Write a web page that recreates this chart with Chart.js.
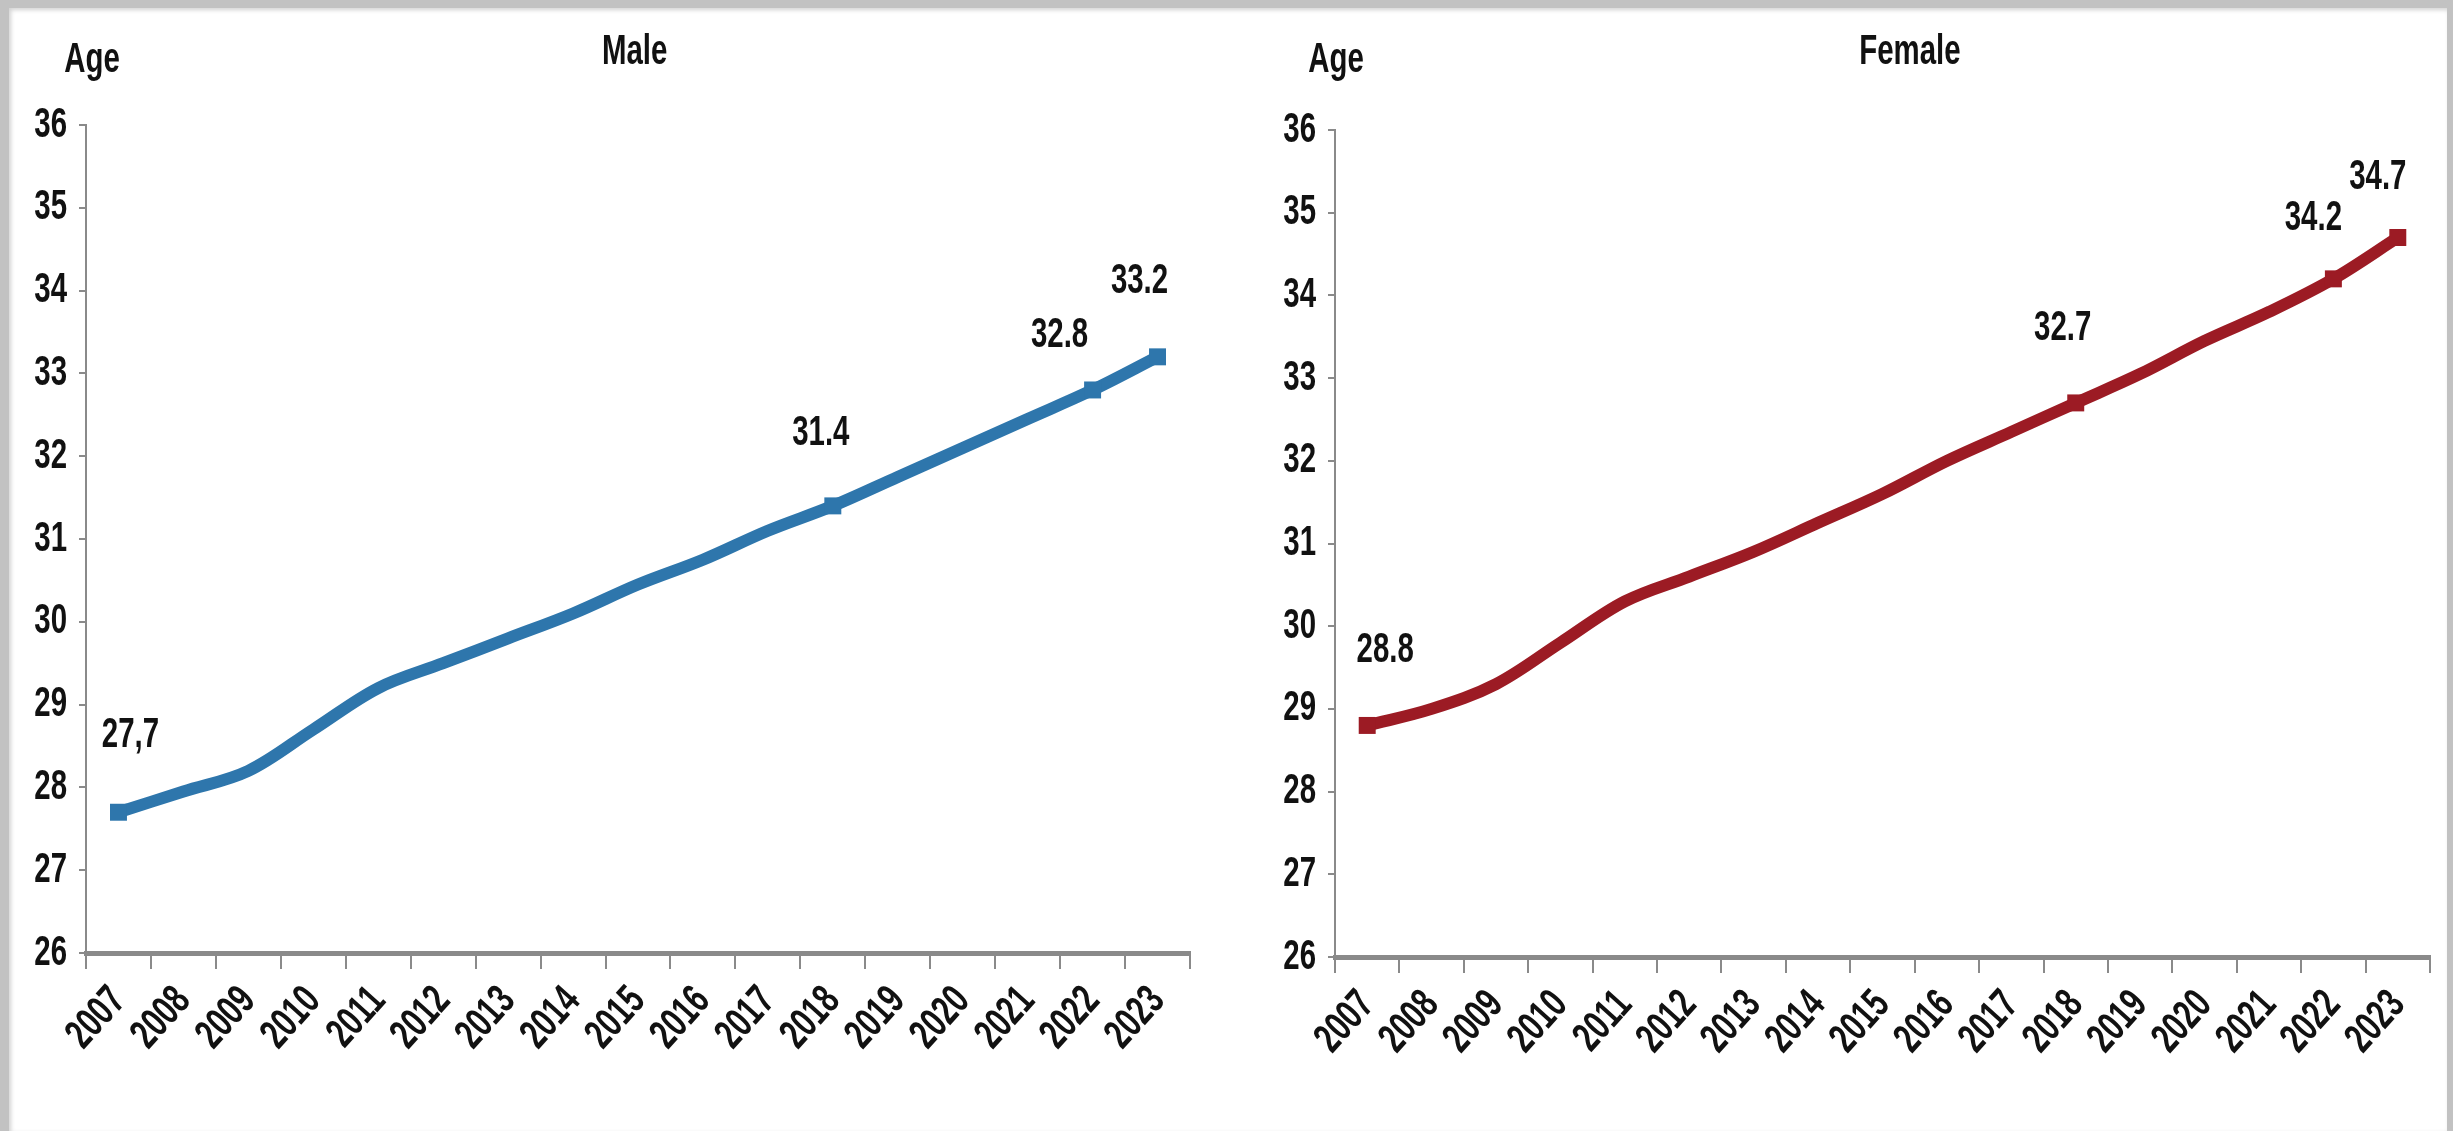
<!DOCTYPE html>
<html>
<head>
<meta charset="utf-8">
<title>Mean age at first marriage</title>
<script src="https://cdn.jsdelivr.net/npm/chart.js@4.4.1/dist/chart.umd.min.js"></script>
<style>
  html, body { margin: 0; padding: 0; width: 2453px; height: 1131px; overflow: hidden; background: #c2c2c2; }
  #sheet { position: absolute; left: 9px; top: 8px; width: 2438px; height: 1123px; background: #fff;
           box-shadow: inset 2px 2px 4px rgba(0,0,0,0.18); }
  canvas { position: absolute; top: 0; }
</style>
</head>
<body>
<div id="sheet"></div>
<canvas id="maleChart" width="1230" height="1131" style="left:0px"></canvas>
<canvas id="femaleChart" width="1223" height="1131" style="left:1230px"></canvas>
<script>
// Years on the horizontal axis
const years = ['2007','2008','2009','2010','2011','2012','2013','2014','2015',
               '2016','2017','2018','2019','2020','2021','2022','2023'];

// Mean age by year
const maleAge   = [27.7, 27.95, 28.2, 28.7, 29.2, 29.5, 29.8, 30.1, 30.45, 30.75, 31.1, 31.4, 31.75, 32.1, 32.45, 32.8, 33.2];
const femaleAge = [28.8, 29.0, 29.3, 29.8, 30.3, 30.6, 30.9, 31.25, 31.6, 32.0, 32.35, 32.7, 33.05, 33.45, 33.8, 34.2, 34.7];

// Vertical axis range
const yMin = 26;
const yMax = 36;

// Years that carry a marker and a value label
const maleLabelIndex   = [0, 11, 15, 16];
const maleLabelText    = ['27,7', '31.4', '32.8', '33.2'];
const femaleLabelIndex = [0, 11, 15, 16];
const femaleLabelText  = ['28.8', '32.7', '34.2', '34.7'];

const FONT = "'Liberation Sans', Arial, sans-serif";
const NARROW_SCALE = 0.70;   // horizontal squeeze that gives the narrow lettering

// Every piece of text on these canvases is drawn narrow
function narrowText(canvas) {
  const ctx = canvas.getContext('2d');
  const base = ctx.fillText.bind(ctx);
  ctx.fillText = function (text, x, y, maxWidth) {
    this.save();
    this.translate(x, y);
    this.scale(NARROW_SCALE, 1);
    base(text, 0, 0);
    this.restore();
  };
  return canvas;
}

// Draws the panel heading, the axis caption and the value labels
const captions = {
  id: 'captions',
  afterDatasetsDraw(chart, args, opts) {
    const ctx = chart.ctx;
    const area = chart.chartArea;
    const meta = chart.getDatasetMeta(0);
    ctx.save();
    ctx.fillStyle = '#111';
    ctx.textAlign = 'center';
    ctx.textBaseline = 'middle';
    ctx.font = opts.valueFont;
    opts.indices.forEach((idx, k) => {
      const p = meta.data[idx];
      ctx.fillText(opts.texts[k], p.x + opts.offsets[k][0], p.y + opts.offsets[k][1]);
    });
    ctx.font = opts.headFont;
    ctx.fillText(opts.heading, area.left + area.width * opts.headingPos, opts.headingY);
    ctx.fillText('Age', area.left + opts.unitDx, opts.unitY);
    ctx.restore();
  }
};

function makeChart(id, values, color, labelIdx, labelText, cfg) {
  const radii = values.map((v, i) => labelIdx.includes(i) ? 12 : 0);
  return new Chart(narrowText(document.getElementById(id)), {
    type: 'line',
    data: {
      labels: years,
      datasets: [{
        data: values,
        borderColor: color,
        backgroundColor: color,
        borderWidth: 12,
        tension: 0.35,
        fill: false,
        pointStyle: 'rect',
        pointRadius: radii,
        pointHoverRadius: radii,
        pointBorderWidth: 0,
        borderCapStyle: 'butt'
      }]
    },
    options: {
      responsive: false,
      animation: false,
      events: [],
      layout: { padding: cfg.padding },
      plugins: {
        legend: { display: false },
        tooltip: { enabled: false },
        title: { display: false },
        captions: {
          indices: labelIdx,
          texts: labelText,
          offsets: cfg.offsets,
          heading: cfg.heading,
          headingPos: cfg.headingPos,
          headingY: 52,
          unitDx: cfg.unitDx,
          unitY: 60,
          valueFont: 'bold 42px ' + FONT,
          headFont: 'bold 42px ' + FONT
        }
      },
      scales: {
        x: {
          type: 'category',
          offset: true,
          grid: { display: true, offset: true, drawOnChartArea: false, drawTicks: true,
                  tickLength: 16, color: '#8a8a8a', lineWidth: 2 },
          border: { display: true, color: '#8a8a8a', width: 5 },
          ticks: { color: '#111', font: { family: FONT, size: 42, weight: 'bold' },
                   minRotation: 48, maxRotation: 48, padding: 8, autoSkip: false },
          afterFit(scale) { scale.height = 150; }
        },
        y: {
          min: yMin, max: yMax,
          grid: { display: true, drawOnChartArea: false, drawTicks: true, tickLength: 7,
                  color: '#8a8a8a', lineWidth: 2 },
          border: { display: true, color: '#8a8a8a', width: 2 },
          ticks: { stepSize: 1, color: '#111', font: { family: FONT, size: 42, weight: 'bold' }, padding: 12 },
          afterFit(scale) { scale.width = cfg.yWidth; }
        }
      }
    },
    plugins: [captions]
  });
}

makeChart('maleChart', maleAge, '#2E76AC', maleLabelIndex, maleLabelText, {
  padding: { left: 0, top: 125, right: 40, bottom: 28 },
  yWidth: 86,
  heading: 'Male',
  headingPos: 0.497,
  unitDx: 6,
  offsets: [[12, -77], [-12, -72], [-33, -55], [-18, -75]]
});

makeChart('femaleChart', femaleAge, '#9C1B24', femaleLabelIndex, femaleLabelText, {
  padding: { left: 0, top: 130, right: 23, bottom: 24 },
  yWidth: 105,
  heading: 'Female',
  headingPos: 0.525,
  unitDx: 1,
  offsets: [[18, -75], [-13, -74], [-20, -60], [-20, -60]]
});
</script>
</body>
</html>
